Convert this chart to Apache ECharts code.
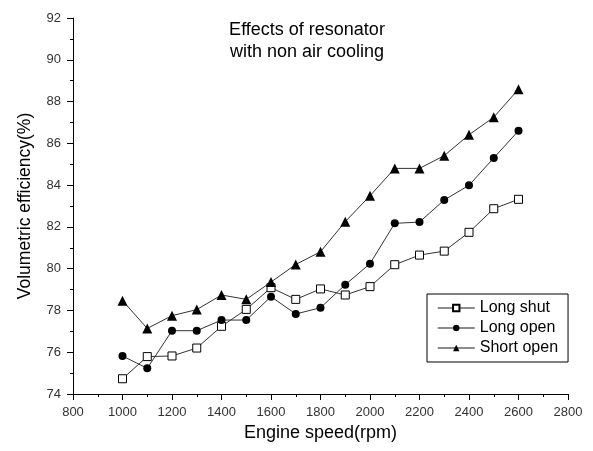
<!DOCTYPE html>
<html>
<head>
<meta charset="utf-8">
<script src="https://cdn.jsdelivr.net/npm/echarts@6/dist/echarts.min.js"></script>
<style>
html,body{margin:0;padding:0;background:#fff;}
#chart{width:593px;height:451px;}
</style>
</head>
<body>
<div id="chart"></div>
<script>
const speeds = [1000, 1100, 1200, 1300, 1400, 1500, 1600, 1700, 1800, 1900, 2000, 2100, 2200, 2300, 2400, 2500, 2600];
const longShut = [74.73, 75.79, 75.82, 76.2, 77.24, 78.05, 79.09, 78.53, 79.03, 78.74, 79.14, 80.19, 80.65, 80.84, 81.74, 82.87, 83.32];
const longOpen = [75.82, 75.23, 77.03, 77.03, 77.54, 77.54, 78.66, 77.83, 78.13, 79.23, 80.24, 82.17, 82.23, 83.29, 83.99, 85.3, 86.6];
const shortOpen = [78.47, 77.14, 77.75, 78.04, 78.74, 78.53, 79.36, 80.2, 80.81, 82.25, 83.49, 84.8, 84.8, 85.41, 86.41, 87.25, 88.59];
const seriesNames = ['Long shut', 'Long open', 'Short open'];
const titleText = 'Effects of resonator\nwith non air cooling';
const xName = 'Engine speed(rpm)';
const yName = 'Volumetric efficiency(%)';

const pair = (ys) => speeds.map((x, i) => [x, ys[i]]);
const FONT = 'Liberation Sans, Arial, sans-serif';

const chart = echarts.init(document.getElementById('chart'), null, {renderer: 'canvas'});
const axisCommon = {
  splitLine: {show: false},
  axisLine: {show: true, lineStyle: {color: '#000', width: 1}},
  axisTick: {show: true, inside: false, length: 6, lineStyle: {color: '#000', width: 1}},
  minorTick: {show: true, splitNumber: 2, length: 3, lineStyle: {color: '#000', width: 1}},
  axisLabel: {color: '#333', fontSize: 13, fontFamily: FONT, margin: 12, formatter: (v) => String(v)},
  nameLocation: 'middle'
};
function mk(name, data, symbol, fill, size) {
  return {
    name: name, type: 'line', data: pair(data),
    symbol: symbol, symbolSize: size, showAllSymbol: true,
    lineStyle: {color: '#333', width: 1},
    itemStyle: {color: fill, borderColor: '#000', borderWidth: fill === '#fff' ? 1 : 0},
    emphasis: {disabled: true}
  };
}
chart.setOption({
  animation: false,
  backgroundColor: '#fff',
  title: {
    text: titleText, left: 307, top: 19, textAlign: 'center', padding: 0,
    textStyle: {fontSize: 18, fontWeight: 'normal', color: '#000', fontFamily: FONT, lineHeight: 22}
  },
  legend: {
    data: seriesNames, orient: 'vertical', left: 427, top: 294,
    borderColor: '#000', borderWidth: 1, padding: [5, 10, 5, 10],
    itemWidth: 37, itemHeight: 8, itemGap: 2,
    textStyle: {fontSize: 16, color: '#000', fontFamily: FONT, lineHeight: 18},
    lineStyle: {color: '#666', width: 1.5}
  },
  grid: {left: 73, top: 18, right: 25, bottom: 57, containLabel: false},
  xAxis: Object.assign({}, axisCommon, {
    type: 'value', min: 800, max: 2800, interval: 200,
    name: xName, nameGap: 30,
    nameTextStyle: {color: '#000', fontSize: 18, fontFamily: FONT}
  }),
  yAxis: Object.assign({}, axisCommon, {
    type: 'value', min: 74, max: 92, interval: 2,
    name: yName, nameGap: 39,
    nameTextStyle: {color: '#000', fontSize: 17.5, fontFamily: FONT}
  }),
  series: [
    mk(seriesNames[0], longShut, 'rect', '#fff', 8),
    mk(seriesNames[1], longOpen, 'circle', '#000', 8),
    mk(seriesNames[2], shortOpen, 'triangle', '#000', 10)
  ]
});
</script>
</body>
</html>
